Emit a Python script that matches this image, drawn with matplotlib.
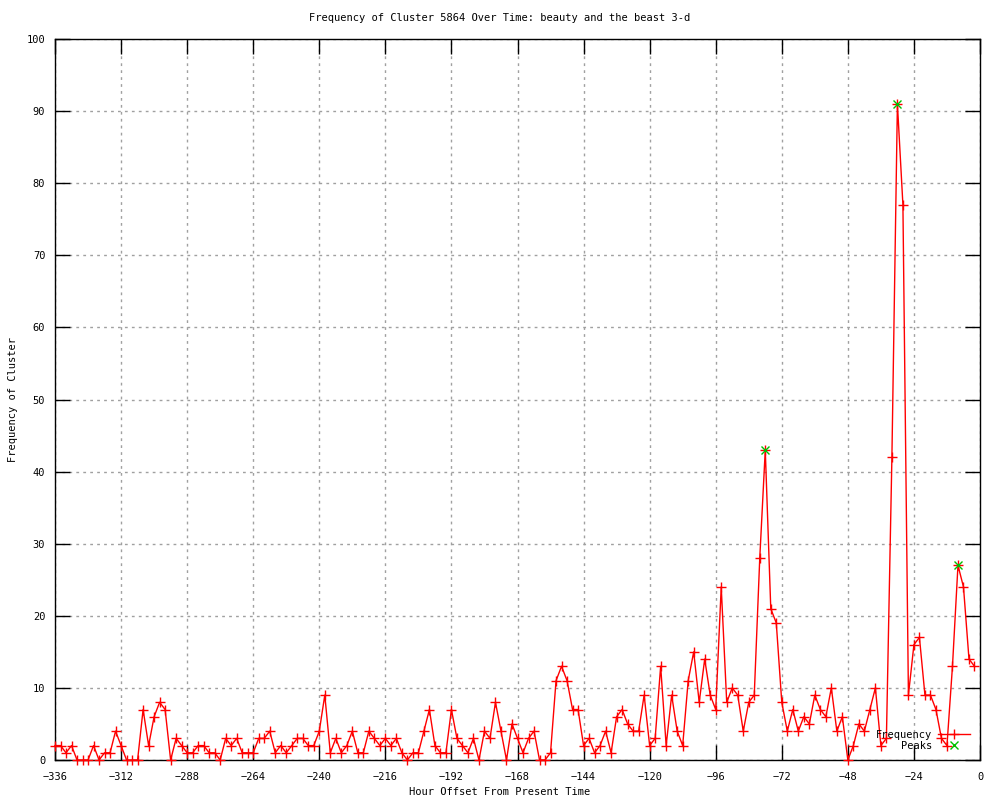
import matplotlib
matplotlib.use("Agg")
import matplotlib.pyplot as plt

hours = list(range(-336, 0, 2))
frequency = [
    2, 2, 1, 2, 0, 0, 0, 2, 0, 1, 1, 4, 2, 0, 0, 0, 7, 2, 6, 8, 7, 0, 3, 2, 1, 1, 2, 2, 1, 1, 0, 3, 2, 3, 1, 1, 1, 3, 3, 4, 1,
    2, 1, 2, 3, 3, 2, 2, 4, 9, 1, 3, 1, 2, 4, 1, 1, 4, 3, 2, 3, 2, 3, 1, 0, 1, 1, 4, 7, 2, 1, 1, 7, 3, 2, 1, 3, 0, 4, 3, 8, 4, 0, 5, 3,
    1, 3, 4, 0, 0, 1, 11, 13, 11, 7, 7, 2, 3, 1, 2, 4, 1, 6, 7, 5, 4, 4, 9, 2, 3, 13, 2, 9, 4, 2, 11, 15, 8, 14, 9, 7, 24, 8, 10, 9,
    4, 8, 9, 28, 43, 21, 19, 8, 4, 7, 4, 6, 5, 9, 7, 6, 10, 4, 6, 0, 2, 5, 4, 7, 10, 2, 3, 42, 91, 77, 9, 16, 17, 9, 9, 7, 3, 2, 13, 27, 24, 14, 13,
]
peak_hours = [-78, -30, -8]
peak_values = [43, 91, 27]

title = "Frequency of Cluster 5864 Over Time: beauty and the beast 3-d"
x_label = "Hour Offset From Present Time"
y_label = "Frequency of Cluster"
x_ticks = list(range(-336, 1, 24))
y_ticks = list(range(0, 101, 10))

font = "DejaVu Sans Mono"
fs = 7.5
plt.rcParams['font.family'] = [font]

fig = plt.figure(figsize=(10, 8), dpi=100)
ax = fig.add_axes([0.055, 0.05, 0.925, 0.90125])

ax.plot(hours, frequency, color='#ff0000', lw=1.0, marker='+', ms=7, mew=1.0,
        label='Frequency', clip_on=False, zorder=3)
ax.plot(peak_hours, peak_values, linestyle='none', marker='x', ms=6, mew=1.0,
        color='#00c000', label='Peaks', clip_on=False, zorder=4)

ax.set_xlim(-336, 0)
ax.set_ylim(0, 100)
ax.set_xticks(x_ticks)
ax.set_yticks(y_ticks)
ax.grid(True, color='#a0a0a0', linestyle=(0, (2, 3)), linewidth=1.0)
ax.set_axisbelow(True)
ax.tick_params(direction='in', length=11, width=1, top=True, right=True,
               labelsize=fs, pad=7, colors='black')
ax.tick_params(axis='x', pad=9)
for s in ax.spines.values():
    s.set_linewidth(1.0)

fig.text(0.5, 1 - 18 / 800, title, ha='center', va='center', fontsize=fs)
fig.text(0.5, 1 - 792 / 800, x_label, ha='center', va='center', fontsize=fs)
fig.text(13 / 1000, 0.5, y_label, ha='center', va='center', rotation=90, fontsize=fs)

ax.legend(loc='lower right', bbox_to_anchor=(0.999, 0.0), markerfirst=False, frameon=False,
          fontsize=fs, handlelength=3.0, handletextpad=0.6, labelspacing=0.1,
          numpoints=1, borderpad=0.4)

fig.savefig("out.png", dpi=100)
